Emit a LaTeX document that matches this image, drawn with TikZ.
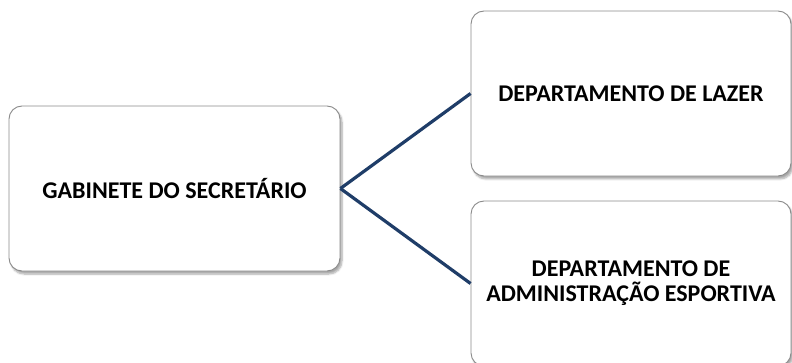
\documentclass[tikz,border=0pt]{standalone}
\usepackage{fontspec}
\setmainfont{Carlito}
\usetikzlibrary{shadows.blur}
\definecolor{navy}{HTML}{1F3D68}
\definecolor{boxline}{HTML}{8A8A8A}
\begin{document}
\begin{tikzpicture}[x=1pt,y=1pt,
  orgbox/.style={draw=boxline, line width=0.9pt, fill=white, rounded corners=13pt,
    minimum width=#1, minimum height=165pt, inner sep=0pt, align=center,
    font=\fontsize{24}{25}\selectfont\bfseries,
    blur shadow={shadow xshift=2pt, shadow yshift=-3pt, shadow blur steps=6, shadow opacity=35}},
  link/.style={draw=navy, line width=3.2pt}]
\useasboundingbox (0,0) rectangle (792,362);
\node[orgbox=331pt] (gab) at (174.5,173.5) {GABINETE DO SECRETÁRIO};
\node[orgbox=320pt] (laz) at (631,268.5) {DEPARTAMENTO DE LAZER};
\node[orgbox=320pt] (adm) at (631,78.5) {DEPARTAMENTO DE\\ADMINISTRAÇÃO ESPORTIVA};
\draw[link] (gab.east) -- (laz.west);
\draw[link] (gab.east) -- (adm.west);
\end{tikzpicture}
\end{document}
